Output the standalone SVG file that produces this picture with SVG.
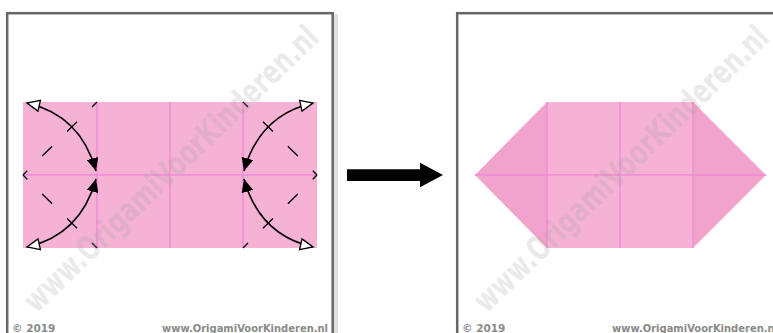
<svg xmlns="http://www.w3.org/2000/svg" width="773" height="333" viewBox="0 0 773 333">
<style>
.frame{fill:#fff;stroke:#666;stroke-width:2.5}
.shadow{fill:none;stroke:#ccc;stroke-width:4;opacity:.6}
.paper{fill:#f5b2d5}
.side{fill:#f2a3cc}
.crease{stroke:#f08ad6;stroke-width:1.4;fill:none}
.valley{stroke:#000;stroke-width:1.3;fill:none;stroke-dasharray:14 21;stroke-dashoffset:7}
.arc{stroke:#000;stroke-width:1.6;fill:none;marker-start:url(#hollow);marker-end:url(#solid)}
.foot{font-family:"DejaVu Sans",Verdana,sans-serif;font-weight:bold;font-size:10.5px;fill:#8a8a8a}
.wm{font-family:"DejaVu Sans",Verdana,sans-serif;font-weight:bold;font-size:33px;fill:#9a9a9a;opacity:.2}
</style>
<defs>
<marker id="solid" markerUnits="userSpaceOnUse" markerWidth="14" markerHeight="12" refX="13" refY="6" orient="auto">
<path d="M0,0 L13,6 L0,12 Z" fill="#000"/>
</marker>
<marker id="hollow" markerUnits="userSpaceOnUse" markerWidth="16" markerHeight="14" refX="14" refY="7" orient="auto-start-reverse">
<path d="M1.5,1.5 L14,7 L1.5,12.5 Z" fill="#fff" stroke="#000" stroke-width="1.3"/>
</marker>
</defs>
<rect width="773" height="333" fill="#fff"/>

<g id="panel-left">
<rect class="shadow" x="10" y="16" width="326" height="330"/>
<rect class="frame" x="7.2" y="13.2" width="325.5" height="330"/>
</g>
<g id="panel-right">
<rect class="shadow" x="460" y="16" width="330" height="330"/>
<rect class="frame" x="457.2" y="13.2" width="330" height="330"/>
</g>

<g id="paper-left">
<rect class="paper" x="23" y="102" width="294" height="146"/>
<path class="crease" d="M97,102V248M170,102V248M243,102V248M23,175H317"/>
</g>

<g id="valley-folds">
<path class="valley" d="M97,102L23,175"/>
<path class="valley" d="M97,248L23,175"/>
<path class="valley" d="M243,102L317,175"/>
<path class="valley" d="M243,248L317,175"/>
</g>

<g id="connectors">
<path class="arc" d="M27,103Q80.5,115 96,171"/>
<path class="arc" d="M27,247Q80.5,235 96,179"/>
<path class="arc" d="M313,103Q259.5,115 244,171"/>
<path class="arc" d="M313,247Q259.5,235 244,179"/>
<path id="step-arrow" d="M347,169.3H420V162.7L443,175L420,187.3V181H347Z" fill="#000"/>
</g>

<g id="paper-right">
<rect class="paper" x="547" y="102" width="146" height="146"/>
<path class="side" d="M547,102L475,175L547,248Z"/>
<path class="side" d="M693,102L766,175L693,248Z"/>
<path class="crease" d="M547,102V248M620,102V248M693,102V248M475,175H766"/>
</g>

<g id="watermarks">
<text class="wm" transform="translate(171,169) rotate(-44)" x="0" y="11" text-anchor="middle" textLength="395" lengthAdjust="spacingAndGlyphs">www.OrigamiVoorKinderen.nl</text>
<text class="wm" transform="translate(621,169) rotate(-44)" x="0" y="11" text-anchor="middle" textLength="395" lengthAdjust="spacingAndGlyphs">www.OrigamiVoorKinderen.nl</text>
</g>

<g id="footer">
<text class="foot" x="12" y="332">© 2019</text>
<text class="foot" x="162" y="332" textLength="166" lengthAdjust="spacingAndGlyphs">www.OrigamiVoorKinderen.nl</text>
<text class="foot" x="462" y="332">© 2019</text>
<text class="foot" x="612" y="332" textLength="166" lengthAdjust="spacingAndGlyphs">www.OrigamiVoorKinderen.nl</text>
</g>
</svg>
